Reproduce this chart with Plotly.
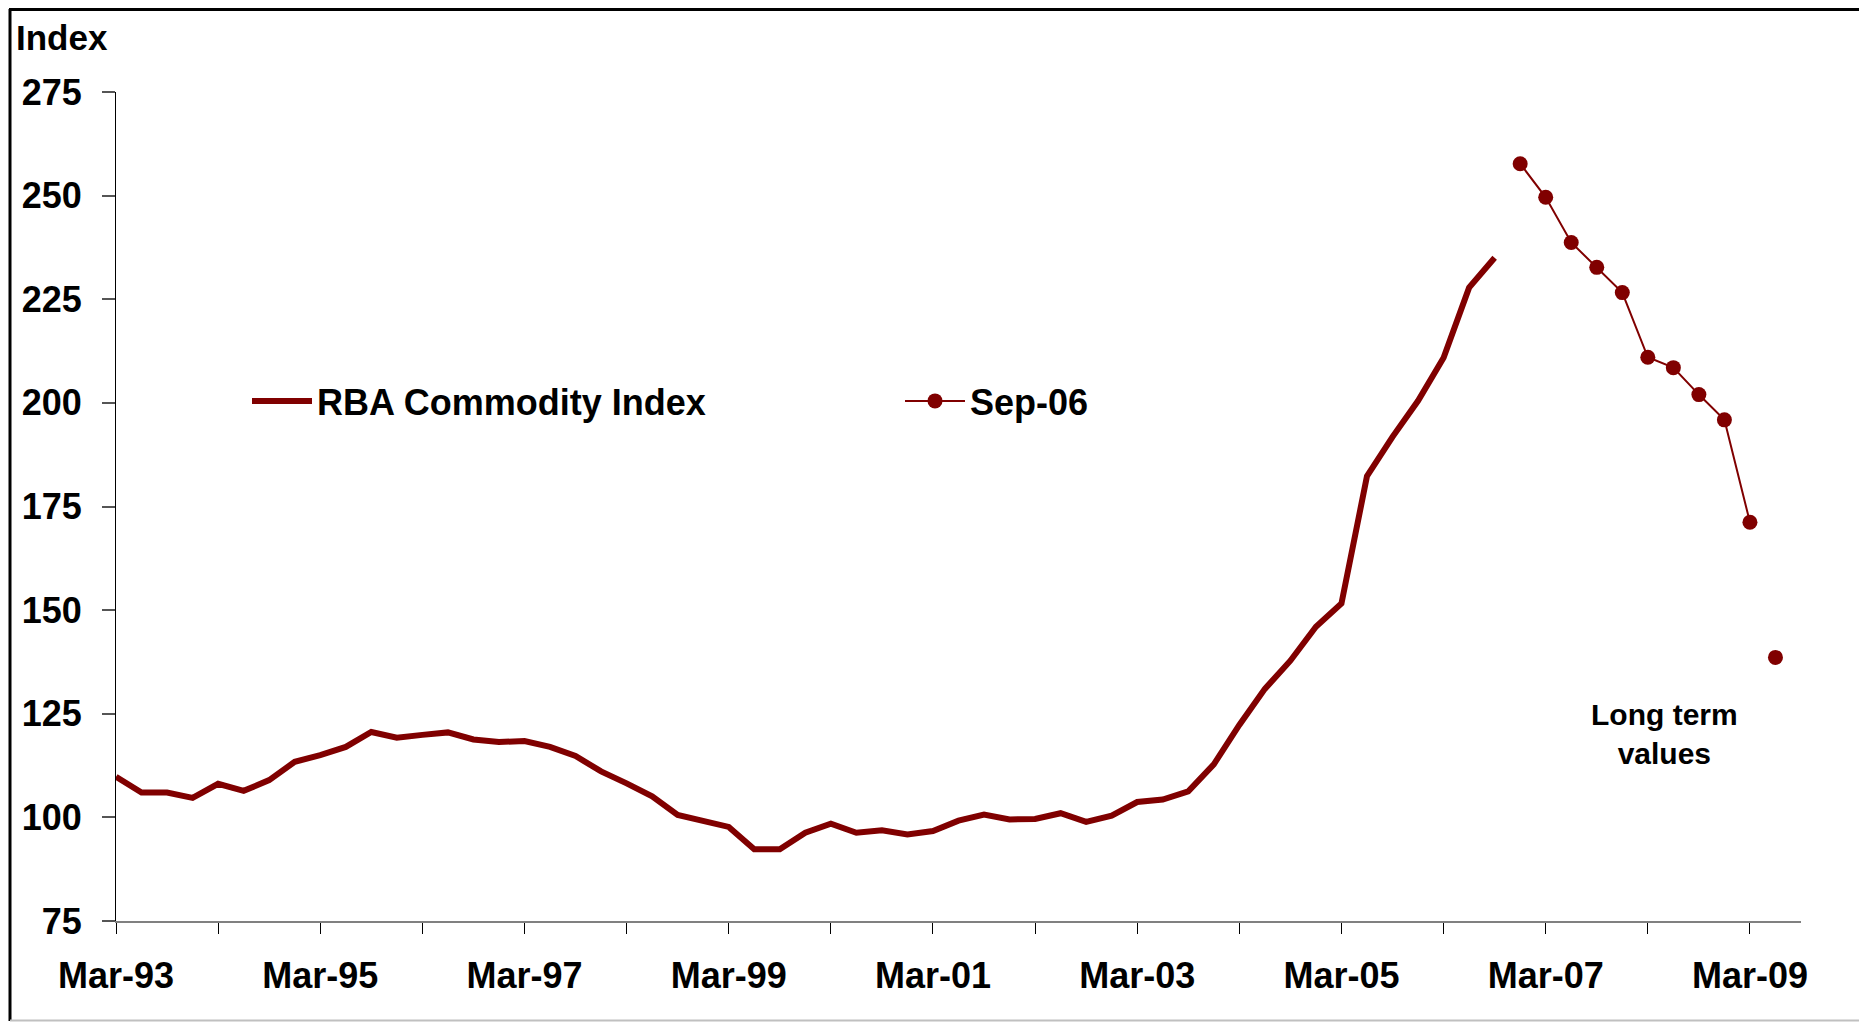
import plotly.graph_objects as go

# ---------------- data ----------------
months = ["Mar", "Jun", "Sep", "Dec"]
quarters = [f"{m}-{y % 100:02d}" for y in range(1993, 2010) for m in months][:67]  # Mar-93 .. Sep-09

rba_quarters = quarters[:55]  # Mar-93 .. Sep-06
rba_values = [109.8, 106.0, 106.0, 104.7, 108.1, 106.4, 109.0, 113.4, 115.0, 117.0,
              120.6, 119.2, 119.9, 120.5, 118.8, 118.2, 118.4, 117.0, 114.8, 111.1,
              108.2, 105.1, 100.6, 99.3, 97.7, 92.3, 92.3, 96.3, 98.5, 96.3,
              96.9, 95.9, 96.7, 99.2, 100.7, 99.5, 99.6, 101.0, 98.9, 100.4,
              103.7, 104.3, 106.3, 112.8, 122.3, 131.0, 137.8, 146.0, 151.6, 182.3,
              191.8, 200.5, 210.9, 227.8, 235.0]

sep06_quarters = quarters[55:65]  # Dec-06 .. Mar-09
sep06_values = [257.7, 249.6, 238.7, 232.7, 226.6, 211.0, 208.5, 202.0, 195.9, 171.2]

long_term_quarters = ["Jun-09"]
long_term_values = [138.6]

y_ticks = [75, 100, 125, 150, 175, 200, 225, 250, 275]
x_tick_quarters = quarters[::4]  # every March
x_tick_text = [q if i % 2 == 0 else "" for i, q in enumerate(x_tick_quarters)]

# ---------------- style ----------------
OFF = 8  # default page body margin
W, H = 1867 - OFF, 1022 - OFF
PL, PR, PT, PB = 116 - OFF, 1801 - OFF, 92 - OFF, 921 - OFF
FONT = "Arial, 'Liberation Sans', sans-serif"
MAROON = "#800000"


def px_x(p):  # page pixel -> paper
    return (p - OFF - PL) / (PR - PL)


def px_y(p):
    return (PB - (p - OFF)) / (PB - PT)


fig = go.Figure()
fig.add_trace(go.Scatter(
    x=rba_quarters, y=rba_values, mode="lines", name="RBA Commodity Index",
    line=dict(color=MAROON, width=6), xaxis="x", yaxis="y"))
fig.add_trace(go.Scatter(
    x=sep06_quarters, y=sep06_values, mode="lines+markers", name="Sep-06",
    line=dict(color=MAROON, width=2), marker=dict(color=MAROON, size=15),
    xaxis="x", yaxis="y"))
fig.add_trace(go.Scatter(
    x=long_term_quarters, y=long_term_values, mode="markers", name="Long term values",
    marker=dict(color=MAROON, size=15), showlegend=False, xaxis="x", yaxis="y"))

fig.update_layout(
    width=W, height=H,
    margin=dict(l=PL, r=W - PR, t=PT, b=H - PB),
    paper_bgcolor="white", plot_bgcolor="white",
    font=dict(family=FONT, color="black", size=36, weight=700),
    xaxis=dict(
        type="category", categoryorder="array", categoryarray=quarters,
        range=[0, len(quarters) - 1],
        showgrid=False, zeroline=False,
        showline=True, linecolor="#808080", linewidth=2,
        ticks="outside", ticklen=11, tickcolor="black", tickwidth=1,
        tickmode="array", tickvals=x_tick_quarters, ticktext=x_tick_text,
        tickfont=dict(family=FONT, size=36, weight=700, color="black"),
        ticklabelstandoff=11,
    ),
    xaxis2=dict(
        overlaying="x", anchor="y", range=[0, len(quarters) - 1],
        showgrid=False, zeroline=False, showline=False,
        ticks="inside", ticklen=11, tickcolor="black", tickwidth=1,
        tickmode="array", tickvals=list(range(0, len(quarters), 4)),
        showticklabels=False,
    ),
    yaxis=dict(
        range=[75, 275], showgrid=False, zeroline=False,
        showline=True, linecolor="black", linewidth=1,
        ticks="outside", ticklen=13, tickcolor="#555555", tickwidth=1.5,
        tickmode="array", tickvals=y_ticks,
        tickfont=dict(family=FONT, size=36, weight=700, color="black"),
        ticklabelstandoff=13,
    ),
    yaxis2=dict(
        overlaying="y", anchor="x", range=[75, 275],
        showgrid=False, zeroline=False, showline=False,
        ticks="inside", ticklen=13, tickcolor="#555555", tickwidth=1.5,
        tickmode="array", tickvals=y_ticks, showticklabels=False,
    ),
    showlegend=True,
    legend=dict(
        orientation="h", x=px_x(247), xanchor="left", y=px_y(401), yanchor="middle",
        font=dict(family=FONT, size=36, weight=700, color="black"),
        bgcolor="rgba(0,0,0,0)", itemwidth=60, entrywidth=578, entrywidthmode="pixels",
    ),
    annotations=[
        dict(text="Index", xref="paper", yref="paper", x=px_x(14), y=px_y(37),
             xanchor="left", yanchor="middle", showarrow=False,
             font=dict(family=FONT, size=35, weight=700, color="black")),
        dict(text="Long term<br>values", xref="paper", yref="paper",
             x=px_x(1664), y=px_y(734), xanchor="center", yanchor="middle",
             align="center", showarrow=False,
             font=dict(family=FONT, size=30, weight=700, color="black")),
    ],
    shapes=[
        dict(type="line", xref="paper", yref="paper", x0=px_x(10), x1=px_x(10),
             y0=px_y(9), y1=px_y(1021), line=dict(color="black", width=3)),
        dict(type="line", xref="paper", yref="paper", x0=px_x(9), x1=px_x(1867),
             y0=px_y(9.5), y1=px_y(9.5), line=dict(color="black", width=3)),
        dict(type="line", xref="paper", yref="paper", x0=px_x(10), x1=px_x(1867),
             y0=px_y(1020.5), y1=px_y(1020.5), line=dict(color="#c0c0c0", width=2)),
    ],
)

fig.write_html("out.html")
